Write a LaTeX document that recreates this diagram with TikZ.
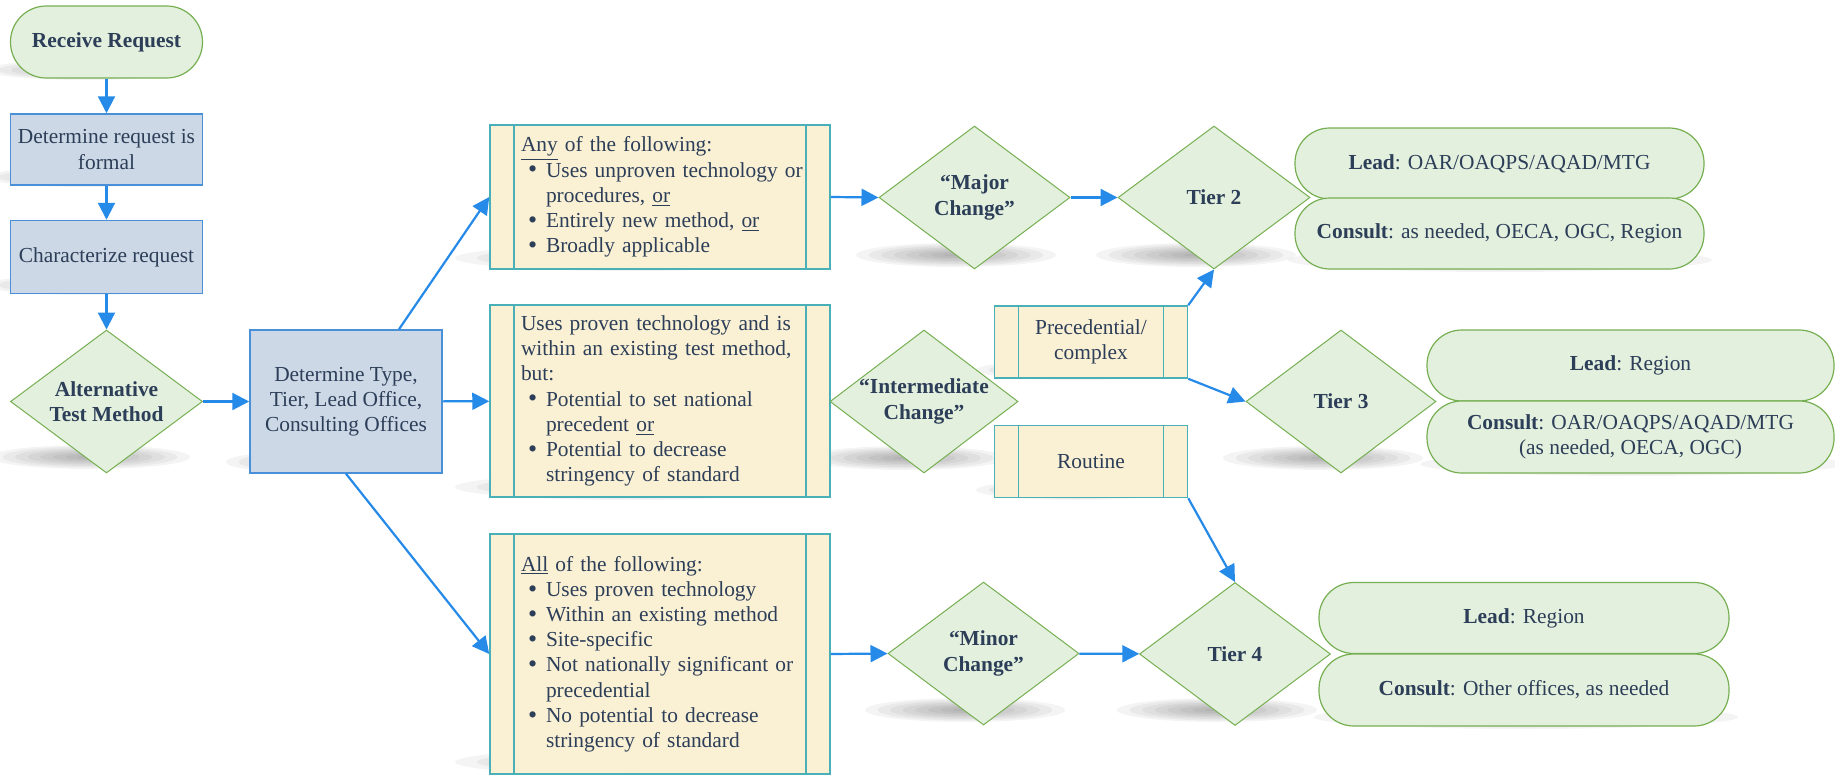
\documentclass[tikz,border=0pt]{standalone}
\usepackage{fontspec}
\setmainfont{Liberation Serif}
\usetikzlibrary{shapes.geometric,arrows.meta}
\definecolor{txt}{RGB}{44,62,88}
\definecolor{gfill}{RGB}{228,240,222}
\definecolor{gdraw}{RGB}{118,175,82}
\definecolor{bfill}{RGB}{205,216,230}
\definecolor{bdraw}{RGB}{74,144,217}
\definecolor{yfill}{RGB}{250,240,212}
\definecolor{ydraw}{RGB}{72,176,182}
\definecolor{arrowblue}{RGB}{38,138,232}
\newcommand\shadowblob[4]{%
  \foreach \k in {1,...,8}{%
    \fill[black, opacity=0.045] (#1,#2) ellipse [x radius={#3*\k/8}, y radius={#4*\k/8}];
  }}
\newcommand\bigbul{\raisebox{-0.4pt}{\fontsize{13pt}{12pt}\selectfont\textbullet}}
\newcommand\bul[1]{\mbox{\hspace*{3.5pt}\makebox[9pt][l]{\bigbul}#1}}
\newcommand\cont[1]{\mbox{\hspace*{12.5pt}#1}}
\newcommand\pl[1]{\mbox{#1}}
\begin{document}
\begin{tikzpicture}[x=0.5pt,y=-0.5pt,
  every node/.style={text=txt, font=\fontsize{10.7pt}{12.6pt}\selectfont},
  startpill/.style={rectangle, rounded corners=17.9pt, draw=gdraw, fill=gfill, line width=0.6pt,
    minimum width=96pt, minimum height=36pt, inner sep=0pt,
    font=\fontsize{10.7pt}{12.6pt}\selectfont\bfseries},
  bluebox/.style={rectangle, draw=bdraw, fill=bfill, line width=0.75pt, minimum width=96pt,
    inner sep=0pt, align=center},
  dia/.style={diamond, draw=gdraw, fill=gfill, line width=0.5pt, minimum width=95.5pt,
    minimum height=71.5pt, inner sep=0pt},
  dlab/.style={align=center, font=\fontsize{10.7pt}{12.6pt}\selectfont\bfseries},
  procbox/.style={rectangle, draw=ydraw, fill=yfill, line width=0.75pt,
    path picture={\draw[ydraw, line width=0.75pt]
      ([xshift=12pt]path picture bounding box.north west) -- ([xshift=12pt]path picture bounding box.south west)
      ([xshift=-12pt]path picture bounding box.north east) -- ([xshift=-12pt]path picture bounding box.south east);}},
  listbox/.style={procbox, text width=139pt, inner xsep=15.5pt, inner ysep=0pt, align=left},
  smallbox/.style={procbox, minimum width=96.5pt, minimum height=36pt, align=center, inner sep=0pt},
  office/.style={rectangle, rounded corners=17.4pt, draw=gdraw, fill=gfill, line width=0.6pt,
    minimum width=204.5pt, minimum height=35.5pt, inner sep=0pt, align=center},
  arr/.style={draw=arrowblue, line width=1.1pt, -{Triangle[length=8.5pt,width=8.5pt]}}
]
\useasboundingbox (0,0) rectangle (1835,776);

% soft shadows
\shadowblob{86}{70}{100}{10}
\shadowblob{86}{177}{100}{10}
\shadowblob{86}{285}{100}{10}
\shadowblob{90}{457}{100}{12}
\shadowblob{326}{462}{100}{12}
\shadowblob{630}{258}{175}{13}
\shadowblob{630}{487}{175}{13}
\shadowblob{630}{762}{175}{13}
\shadowblob{956}{255}{100}{12}
\shadowblob{1196}{255}{100}{12}
\shadowblob{1500}{260}{212}{12}
\shadowblob{906}{458}{100}{12}
\shadowblob{1076}{370}{100}{10}
\shadowblob{1076}{490}{100}{10}
\shadowblob{1323}{458}{100}{12}
\shadowblob{1632}{464}{212}{12}
\shadowblob{965}{710}{100}{12}
\shadowblob{1217}{710}{100}{12}
\shadowblob{1526}{717}{212}{12}

% left column
\node[startpill] (recv) at (106.5,42) {Receive Request};
\node[bluebox, minimum height=35.5pt] (formal) at (106.5,149.5) {Determine request is\\formal};
\node[bluebox, minimum height=36.5pt] (charac) at (106.5,257) {Characterize request};
\node[dia, minimum width=96pt, label={[dlab]center:{Alternative\\Test Method}}] (alt) at (106.5,401.5) {};
\node[bluebox, minimum height=71.5pt] (dtype) at (346,401.5) {Determine Type,\\Tier, Lead Office,\\Consulting Offices};

% criteria boxes
\node[listbox, minimum height=72pt] (any) at (660,197) {%
\pl{\underline{Any} of the following:}\\
\bul{Uses unproven technology or}\\
\cont{procedures, \underline{or}}\\
\bul{Entirely new method, \underline{or}}\\
\bul{Broadly applicable}};
\node[listbox, minimum height=96pt] (mid) at (660,401) {%
\pl{Uses proven technology and is}\\
\pl{within an existing test method,}\\
\pl{but:}\\
\bul{Potential to set national}\\
\cont{precedent \underline{or}}\\
\bul{Potential to decrease}\\
\cont{stringency of standard}};
\node[listbox, minimum height=120pt] (all) at (660,654) {%
\pl{\underline{All} of the following:}\\
\bul{Uses proven technology}\\
\bul{Within an existing method}\\
\bul{Site-specific}\\
\bul{Not nationally significant or}\\
\cont{precedential}\\
\bul{No potential to decrease}\\
\cont{stringency of standard}};

% decisions
\node[dia, label={[dlab]center:{“Major\\Change”}}] (major) at (974.5,197.5) {};
\node[dia, minimum width=96pt, label={[dlab]center:{Tier 2}}] (tier2) at (1214,197.5) {};
\node[dia, minimum width=94pt, label={[dlab]center:{“Intermediate\\Change”}}] (intermed) at (924,401.5) {};
\node[smallbox] (prec) at (1091,342) {Precedential/\\complex};
\node[smallbox] (routine) at (1091,461.5) {Routine};
\node[dia, minimum width=95pt, label={[dlab]center:{Tier 3}}] (tier3) at (1341,401.5) {};
\node[dia, label={[dlab]center:{“Minor\\Change”}}] (minor) at (983.5,653.5) {};
\node[dia, minimum width=95.5pt, label={[dlab]center:{Tier 4}}] (tier4) at (1235,654) {};

% offices
\node[office] (lead2) at (1499.5,163.5) {\textbf{Lead}: OAR/OAQPS/AQAD/MTG};
\node[office] (cons2) at (1499.5,233.5) {\textbf{Consult}: as needed, OECA, OGC, Region};
\node[office, minimum width=203.5pt] (lead3) at (1630.5,365.5) {\textbf{Lead}: Region};
\node[office, minimum width=203.5pt, minimum height=36pt] (cons3) at (1630.5,437) {\textbf{Consult}: OAR/OAQPS/AQAD/MTG\\(as needed, OECA, OGC)};
\node[office, minimum width=205pt] (lead4) at (1524,618) {\textbf{Lead}: Region};
\node[office, minimum width=205pt, minimum height=36pt] (cons4) at (1524,690) {\textbf{Consult}: Other offices, as needed};

% connectors
\draw[arr] (recv) -- (formal);
\draw[arr] (formal) -- (charac);
\draw[arr] (charac) -- (alt);
\draw[arr] (alt) -- (dtype);
\draw[arr] (dtype) -- (mid);
\draw[arr] ([xshift=26.5pt]dtype.north) -- (any.west);
\draw[arr] (dtype.south) -- (all.west);
\draw[arr] (any.east) -- (major.west);
\draw[arr] (major) -- (tier2);
\draw[arr] (all.east) -- (minor.west);
\draw[arr] (minor) -- (tier4);
\draw[arr] (prec.north east) -- (tier2.south);
\draw[arr] (prec.south east) -- (tier3.west);
\draw[arr] (routine.south east) -- (tier4.north);
\end{tikzpicture}
\end{document}
